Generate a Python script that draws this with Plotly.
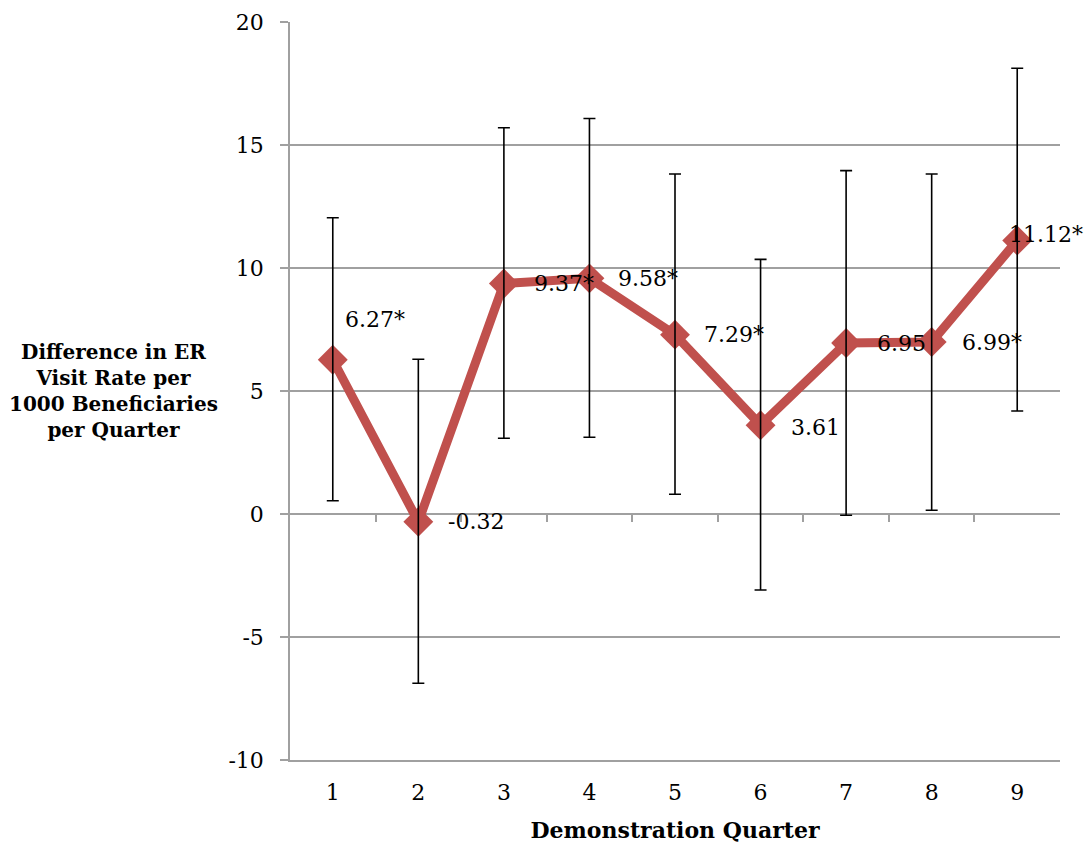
import plotly.graph_objects as go

quarters = [1, 2, 3, 4, 5, 6, 7, 8, 9]
values = [6.27, -0.32, 9.37, 9.58, 7.29, 3.61, 6.95, 6.99, 11.12]
ci_upper = [12.04, 6.29, 15.70, 16.08, 13.82, 10.35, 13.96, 13.82, 18.12]
ci_lower = [0.54, -6.88, 3.08, 3.12, 0.80, -3.09, -0.05, 0.15, 4.19]
labels = ["6.27*", "-0.32", "9.37*", "9.58*", "7.29*", "3.61", "6.95", "6.99*", "11.12*"]
y_ticks = [-10, -5, 0, 5, 10, 15, 20]
y_tick_text = ["-10", "-5", "0", "5", "10", "15", "20"]

RED = "#C0504D"
GRID = "#A0A0A0"
SERIF = "DejaVu Serif"

err_plus = [u - v for u, v in zip(ci_upper, values)]
err_minus = [v - l for v, l in zip(values, ci_lower)]

fig = go.Figure()
fig.add_trace(go.Scatter(
    x=quarters, y=values, mode="lines+markers",
    line=dict(color=RED, width=9),
    marker=dict(symbol="diamond", size=23, color=RED),
    hoverinfo="skip", showlegend=False,
))
fig.add_trace(go.Scatter(
    x=quarters, y=values, mode="markers",
    marker=dict(size=1, opacity=0),
    error_y=dict(type="data", symmetric=False, array=err_plus, arrayminus=err_minus,
                 color="black", thickness=1.6, width=6),
    hoverinfo="skip", showlegend=False,
))
# dummy trace for the tick-mark axis at y = 0
fig.add_trace(go.Scatter(x=quarters, y=[None] * len(quarters), xaxis="x2",
                         mode="lines", hoverinfo="skip", showlegend=False))

# label offsets (style)
xshifts = [10, 28, 28, 27, 27, 28, 29, 28, -10]
yshifts = [40, 0, 0, 0, 0, -2, 0, 0, 6]
for q, v, t, dx, dy in zip(quarters, values, labels, xshifts, yshifts):
    fig.add_annotation(x=q, y=v, text=t, showarrow=False, xanchor="left",
                       yanchor="middle", xshift=dx, yshift=dy,
                       font=dict(family=SERIF, size=22, color="black"))

fig.add_annotation(xref="paper", yref="y", x=(113 - 290) / 770, y=5,
                   text="<b>Difference in ER<br>Visit Rate per<br>1000 Beneficiaries<br>per Quarter</b>",
                   showarrow=False, xanchor="center", yanchor="middle", align="center",
                   font=dict(family=SERIF, size=20, color="black"))

fig.update_layout(
    width=1085, height=846,
    margin=dict(l=290, r=25, t=22, b=86),
    paper_bgcolor="white", plot_bgcolor="white",
    xaxis=dict(range=[0.5, 9.5], tickvals=quarters, ticktext=[str(q) for q in quarters],
               automargin=False,
               showgrid=False, zeroline=False, showline=True, linecolor=GRID, linewidth=1.5,
               ticks="", tickfont=dict(family=SERIF, size=22, color="black"), ticklabelstandoff=12,
               title=dict(text="<b>Demonstration Quarter</b>", standoff=18,
                          font=dict(family=SERIF, size=22, color="black"))),
    xaxis2=dict(range=[0.5, 9.5], overlaying="x", anchor="free", position=1/3,
                side="bottom", showgrid=False, zeroline=False, showline=False,
                tickvals=[1.5, 2.5, 3.5, 4.5, 5.5, 6.5, 7.5, 8.5],
                ticks="outside", ticklen=7, tickcolor=GRID, tickwidth=1.5,
                showticklabels=False),
    yaxis=dict(range=[-10, 20], tickvals=y_ticks, ticktext=y_tick_text, automargin=False,
               showgrid=True, gridcolor=GRID, gridwidth=1.5,
               zeroline=False, showline=True, linecolor=GRID, linewidth=1.5,
               ticks="outside", ticklen=8, tickcolor=GRID, tickwidth=1.5, ticklabelstandoff=12,
               tickfont=dict(family=SERIF, size=22, color="black")),
)

fig.write_html("out.html")
